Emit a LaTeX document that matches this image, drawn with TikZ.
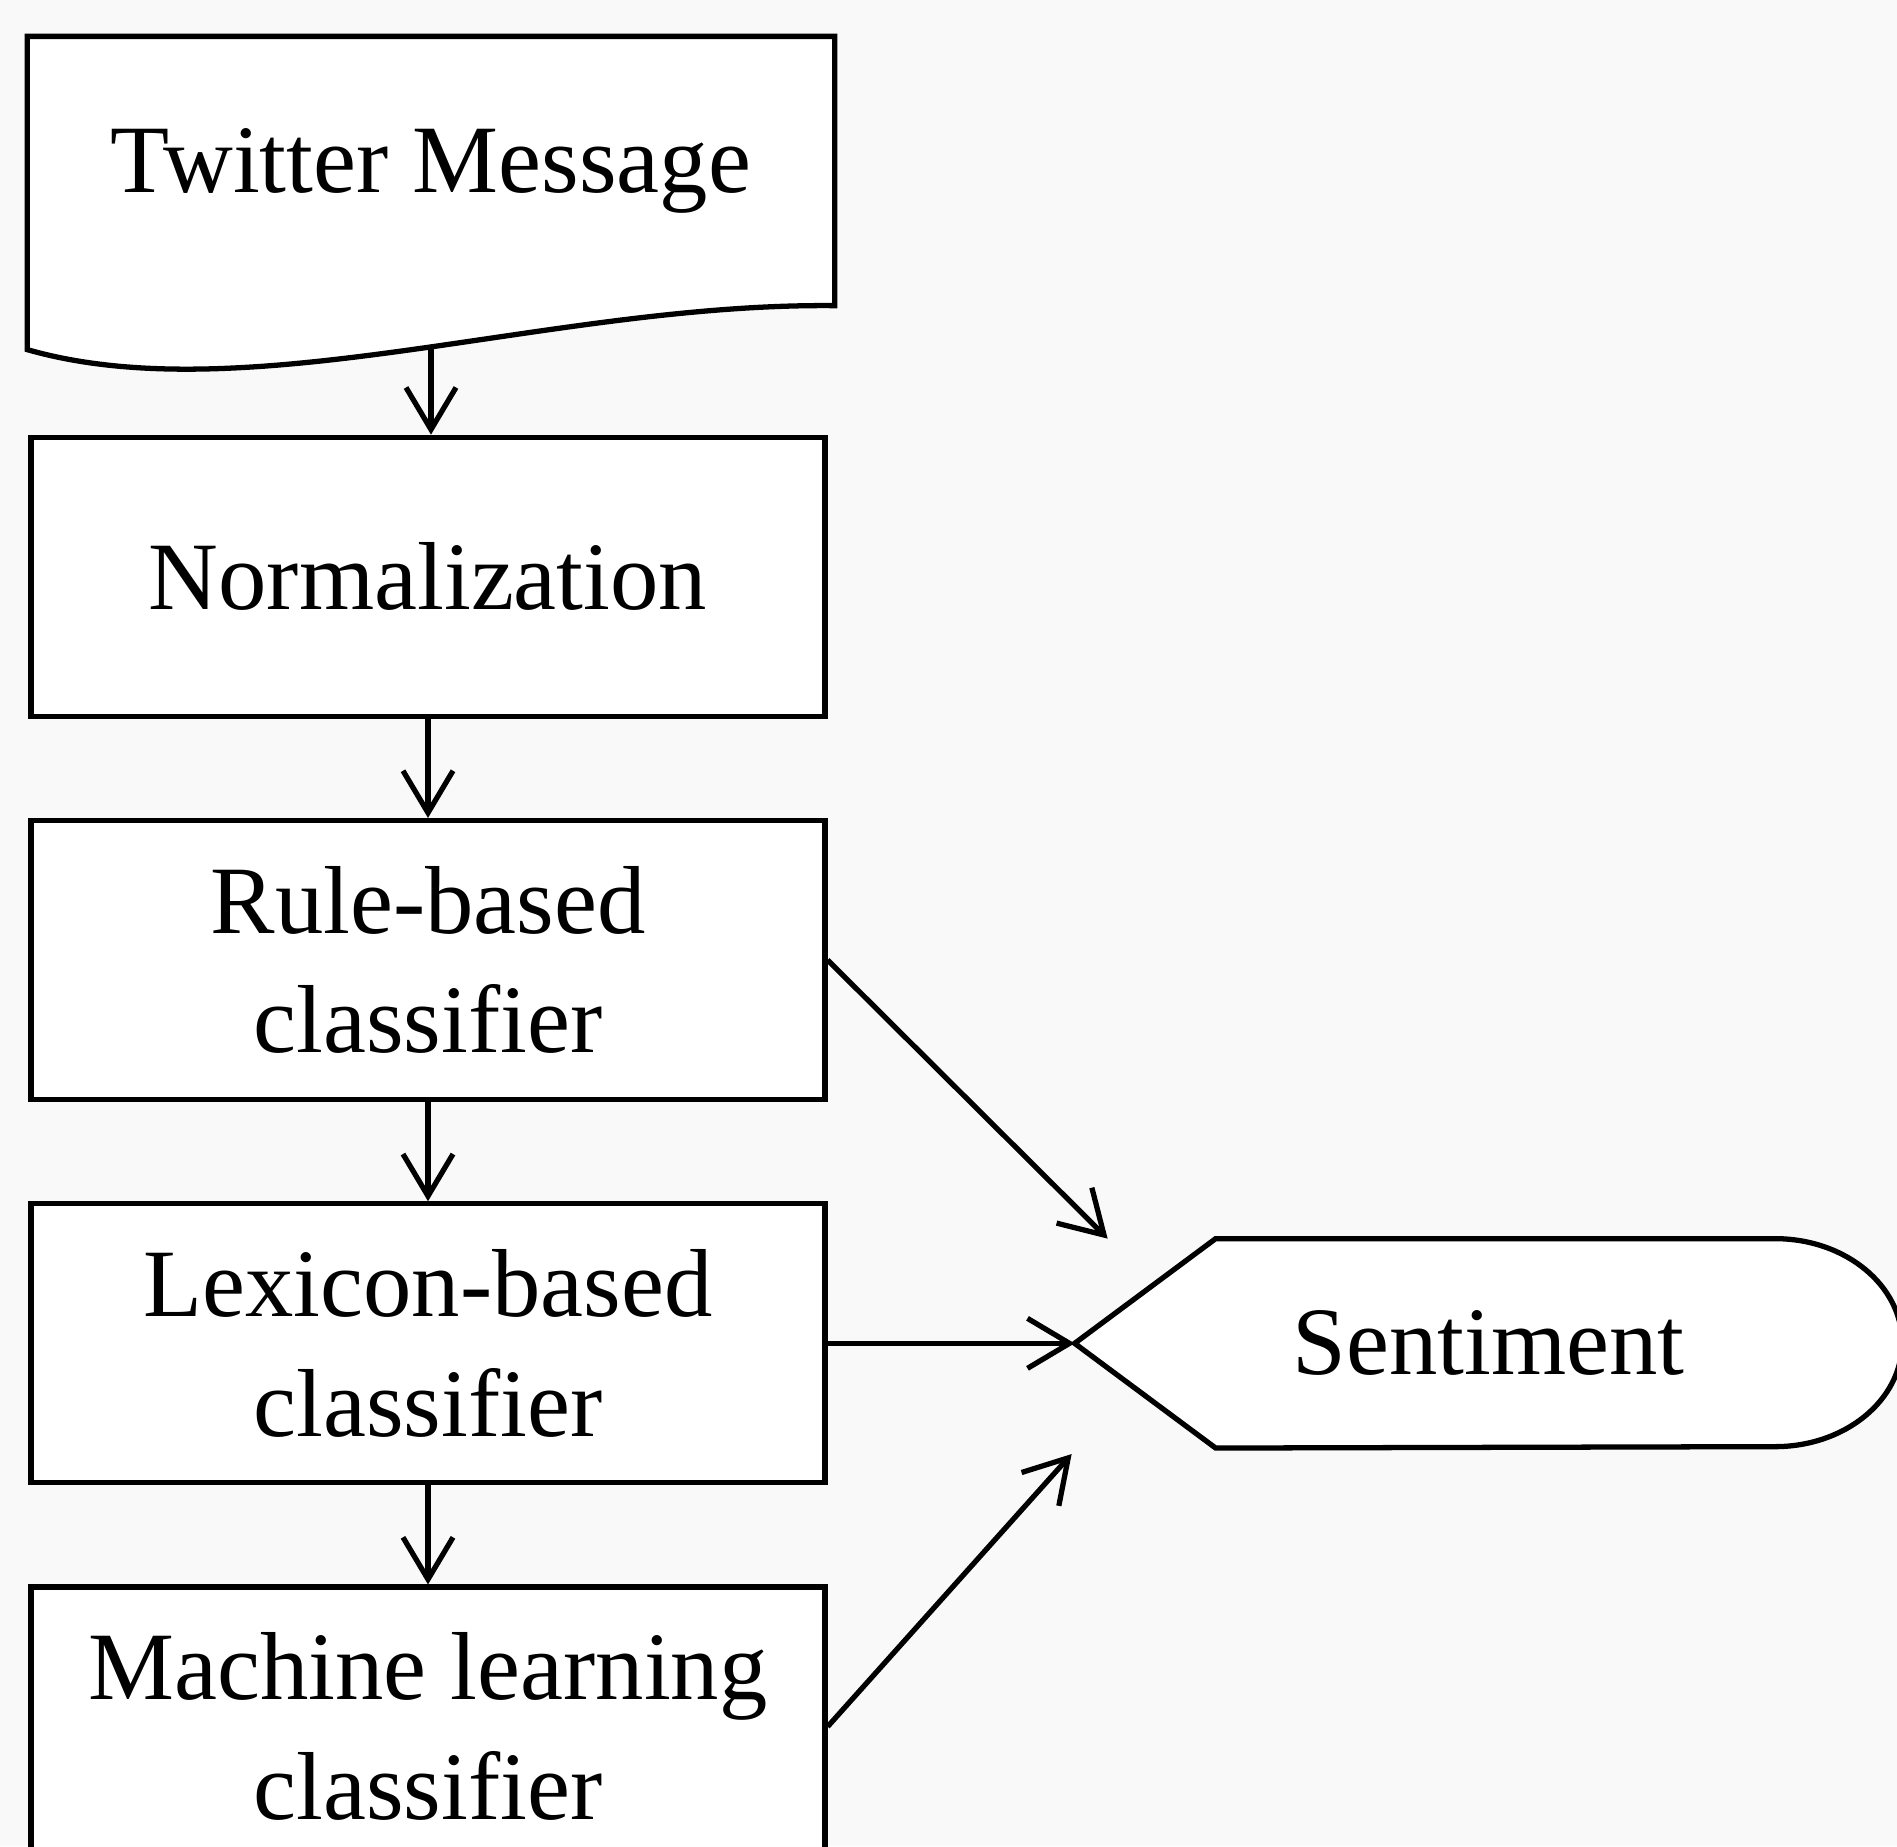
\documentclass[tikz,border=0pt]{standalone}
\usepackage{fontspec}
\setmainfont{Liberation Serif}
\usepackage{tikz}
\usetikzlibrary{arrows.meta,positioning,calc,backgrounds}
\definecolor{pagegray}{RGB}{249,249,249}
\newcommand{\flowfont}{\fontsize{27.5}{34}\selectfont}

\begin{document}
\begin{tikzpicture}[
        node distance=0.99cm,
        % flat white boxes with a thin black outline
        box/.style={rectangle, draw, fill=white, text=black, line width=1.5pt,
            minimum width=7.94cm,
            minimum height=2.79cm,
            align=center, font=\flowfont},
        outline/.style={draw, fill=white, line width=1.5pt},
        arr/.style={-{Straight Barb[length=4.2mm,width=5mm]}, line width=1.5pt}
    ]
        \useasboundingbox (0,0) rectangle (18.97,-18.46);

        \node[box, draw=none, fill=none, minimum width=8.02cm, minimum height=2.64cm] (msg) at (4.31,-1.71) {Twitter Message};
        \node[box, below=1.29cm of msg, xshift=-0.03cm] (norm) {Normalization};
        \node[box, below=of norm] (rule) {Rule-based\\classifier};
        \node[box, below=of rule] (lex) {Lexicon-based\\classifier};
        \node[box, below=of lex] (ml) {Machine learning\\classifier};
        \node[font=\flowfont, minimum width=8.26cm, minimum height=2.08cm, right=2.47cm of lex] (sent) {Sentiment};

        % free ends of the connectors
        \coordinate (msgout) at ($(msg.south)+(0,-0.42)$);
        \coordinate (sentup) at ($(sent.north west)+(0.33,0)$);
        \coordinate (sentdown) at ($(sent.south west)+(-0.03,-0.06)$);

        % Connections
        \draw[arr] (msgout) -- (msgout |- norm.north);
        \draw[arr] (norm) -- (rule);
        \draw[arr] (rule) -- (lex);
        \draw[arr] (lex) -- (ml);
        \draw[arr] (rule.east) -- (sentup);
        \draw[arr] (lex) -- (sent.west);
        \draw[arr] (ml.east) -- (sentdown);

        \begin{scope}[on background layer]
            \fill[pagegray] (0,0) rectangle (18.97,-18.46);
            % document shape for the input
            \path[outline] (msg.north west) -- (msg.north east) -- (msg.south east)
                .. controls ($(msg.south east)+(-2.82,0.03)$) and ($(msg.south west)+(2.2,-1.07)$) .. ($(msg.south west)+(0,-0.44)$) -- cycle;
            % display shape for the result
            \path[outline] (sent.west) -- ($(sent.north west)+(1.41,0)$) -- ($(sent.north east)+(-1.27,0)$)
                arc[start angle=90, end angle=-90, x radius=1.27cm, y radius=1.04cm]
                -- ($(sent.south west)+(1.41,0)$) -- cycle;
        \end{scope}
    \end{tikzpicture}
\end{document}
